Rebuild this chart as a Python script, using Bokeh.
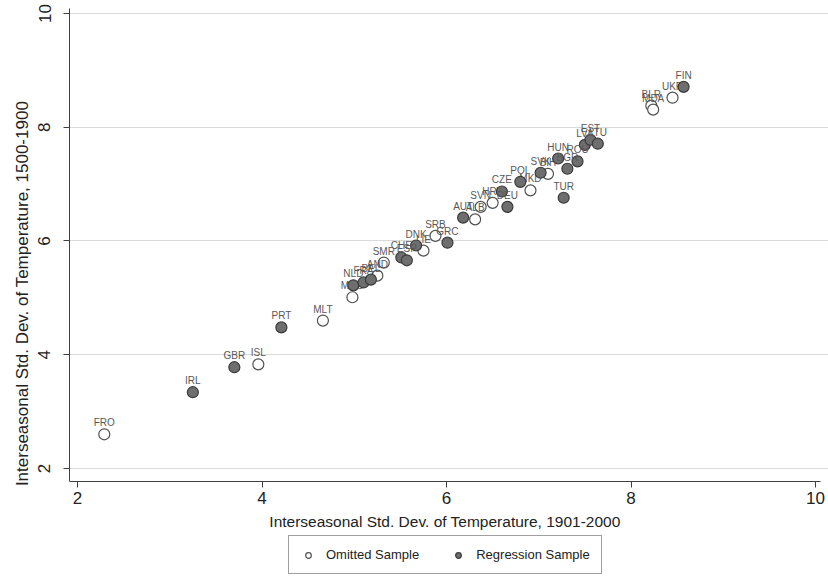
from bokeh.plotting import figure
from bokeh.models import ColumnDataSource, Legend, LegendItem, Range1d, FixedTicker, LinearAxis
from bokeh.embed import file_html
from bokeh.resources import INLINE
from bokeh.core.properties import value

# Omitted sample
omitted_codes = ["FRO", "ISL", "MLT", "MCO", "AND", "SMR", "LIE", "SRB", "ALB",
                 "SVN", "HRV", "MKD", "BIH", "BLR", "MDA", "UKR"]
omitted_x = [2.29, 3.96, 4.66, 4.98, 5.25, 5.32, 5.75, 5.88, 6.31,
             6.37, 6.50, 6.91, 7.10, 8.22, 8.24, 8.45]
omitted_y = [2.60, 3.83, 4.60, 5.01, 5.39, 5.62, 5.83, 6.09, 6.38,
             6.60, 6.67, 6.89, 7.18, 8.38, 8.31, 8.52]

# Regression sample
regression_codes = ["IRL", "GBR", "PRT", "NLD", "FRA", "BEL", "CHE", "ESP", "DNK",
                    "GRC", "AUT", "DEU", "CZE", "POL", "SVK", "HUN", "TUR", "BGR",
                    "ROU", "LVA", "EST", "LTU", "FIN"]
regression_x = [3.25, 3.70, 4.21, 4.99, 5.10, 5.18, 5.51, 5.57, 5.67,
                6.01, 6.18, 6.66, 6.60, 6.80, 7.02, 7.21, 7.27, 7.31,
                7.42, 7.50, 7.56, 7.64, 8.57]
regression_y = [3.34, 3.78, 4.48, 5.22, 5.27, 5.32, 5.71, 5.66, 5.92,
                5.97, 6.41, 6.60, 6.87, 7.04, 7.20, 7.45, 6.76, 7.27,
                7.40, 7.69, 7.78, 7.71, 8.71]

x_ticks = [2, 4, 6, 8, 10]
y_ticks = [2, 4, 6, 8, 10]
x_lo, x_hi = 1.913, 10.054
y_lo, y_hi = 1.77, 10.088

x_title = "Interseasonal Std. Dev. of Temperature, 1901-2000"
y_title = "Interseasonal Std. Dev. of Temperature, 1500-1900"
legend_labels = ["Omitted Sample", "Regression Sample"]

FONT = "Liberation Sans"

src_o = ColumnDataSource(dict(x=omitted_x, y=omitted_y, code=omitted_codes))
src_r = ColumnDataSource(dict(x=regression_x, y=regression_y, code=regression_codes))

# frame extends below the x axis (legend sits under the axis title) and a little
# to the right (so the last tick label is not clipped)
FRAME_W, FRAME_H = 759, 570
PX_PER_X = 751 / (x_hi - x_lo)
PX_PER_Y = 473 / (y_hi - y_lo)
x_right = x_lo + FRAME_W / PX_PER_X
y_bottom = y_lo - (FRAME_H - 473) / PX_PER_Y

p = figure(width=828, height=581, output_backend="svg", toolbar_location=None,
           x_range=Range1d(x_lo, x_right), y_range=Range1d(y_bottom, y_hi),
           x_axis_location=None,
           min_border_left=69, min_border_right=0, min_border_top=8, min_border_bottom=3)
p.outline_line_color = None
p.background_fill_color = "white"
p.border_fill_color = "white"

xaxis = LinearAxis(fixed_location=y_lo, bounds=(x_lo, x_hi))
p.add_layout(xaxis, "below")

p.xgrid.grid_line_color = None
p.ygrid.ticker = FixedTicker(ticks=y_ticks)
p.ygrid.grid_line_color = "#dadada"
p.ygrid.grid_line_width = 1

p.yaxis.bounds = (y_lo, y_hi)

for ax, ticks in ((xaxis, x_ticks), (p.yaxis[0], y_ticks)):
    ax.ticker = FixedTicker(ticks=ticks)
    ax.minor_tick_line_color = None
    ax.major_tick_in = 0
    ax.major_tick_out = 6
    ax.axis_line_color = "#404040"
    ax.major_tick_line_color = "#404040"
    ax.major_label_text_font = FONT
    ax.major_label_text_font_size = "17px"
    ax.major_label_text_color = "#222222"
    ax.axis_label_text_font = FONT
    ax.axis_label_text_font_style = "normal"
    ax.axis_label_text_color = "#222222"

xaxis.axis_label = x_title
xaxis.axis_label_text_font_size = "15.5px"
xaxis.major_label_standoff = 4
xaxis.axis_label_standoff = 6
p.yaxis.axis_label = y_title
p.yaxis.axis_label_text_font_size = "17px"
p.yaxis.major_label_orientation = "vertical"
p.yaxis.major_label_standoff = 13
p.yaxis.axis_label_standoff = 4

r_o = p.scatter("x", "y", source=src_o, size=11, marker="circle",
                fill_color="white", line_color="#505050", line_width=1.2)
p.text("x", "y", text="code", source=src_o, text_align="center", text_baseline="bottom",
       y_offset=-6, text_font=value(FONT), text_font_size="10px", text_color="#585858")
r_r = p.scatter("x", "y", source=src_r, size=11, marker="circle",
                fill_color="#6e6e6e", line_color="#3a3a3a", line_width=1.2)
p.text("x", "y", text="code", source=src_r, text_align="center", text_baseline="bottom",
       y_offset=-6, text_font=value(FONT), text_font_size="10px", text_color="#585858")

legend = Legend(items=[LegendItem(label=legend_labels[0], renderers=[r_o]),
                       LegendItem(label=legend_labels[1], renderers=[r_r])],
                orientation="horizontal", location=(219, 4))
legend.label_text_font = FONT
legend.label_text_font_size = "13px"
legend.label_text_color = "#222222"
legend.border_line_color = "#404040"
legend.border_line_width = 1
legend.padding = 11
legend.spacing = 31
legend.glyph_width = 16
legend.glyph_height = 14
legend.label_standoff = 10
legend.margin = 0
p.add_layout(legend, "center")

open("out.html", "w").write(file_html(p, INLINE))
